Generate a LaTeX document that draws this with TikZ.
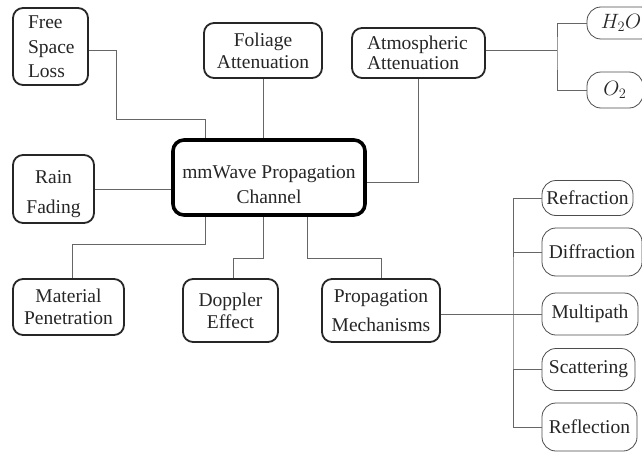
\documentclass[tikz,border=0pt]{standalone}
\usepackage{fontspec}
\setmainfont{Liberation Serif}
\begin{document}
\begin{tikzpicture}[x=1pt,y=-1pt,
  txt/.style={font=\fontsize{19.5}{24}\selectfont, text=black!85, inner sep=0pt},
  mainbox/.style={txt, draw=black!85, line width=1.8pt, rounded corners=10pt},
  centerbox/.style={txt, draw=black, line width=3.6pt, rounded corners=11pt},
  leaf/.style={txt, draw=black!70, line width=0.8pt, rounded corners=14pt},
  conn/.style={draw=black!60, line width=0.9pt}]
\useasboundingbox (0,0) rectangle (642,452);
\clip (0,0) rectangle (642,452);
\fill[white] (0,0) rectangle (642,452);
% main nodes
\node[mainbox, minimum width=75pt, minimum height=77pt, text width=45pt, align=left] (fsl) at (50.5,46.5) {\raisebox{-2pt}[\height][\depth]{\begin{tabular}{@{}l@{}}Free\\[0.5pt]Space\\[0.5pt]Loss\end{tabular}}};
\node[mainbox, minimum width=118pt, minimum height=55pt, align=center, font=\fontsize{19.5}{22}\selectfont] (fol) at (263,50.5) {Foliage\\Attenuation};
\node[mainbox, minimum width=133pt, minimum height=50pt, text width=103pt, align=left, font=\fontsize{19.5}{20.5}\selectfont] (atm) at (418.5,53) {Atmospheric\\Attenuation};
\node[centerbox, minimum width=192pt, minimum height=75pt, align=center] (cbox) at (269,177.5) {\raisebox{-9pt}[\height][\depth]{\begin{tabular}{@{}c@{}}mmWave Propagation\\[1pt]Channel\end{tabular}}};
\node[mainbox, minimum width=81pt, minimum height=68pt, align=center] (rain) at (53.5,189) {\raisebox{-5pt}[\height][\depth]{\begin{tabular}{@{}c@{}}Rain\\[6pt]Fading\end{tabular}}};
\node[mainbox, minimum width=111pt, minimum height=56pt, align=center, font=\fontsize{19.5}{22}\selectfont] (mat) at (68.5,307) {Material\\Penetration};
\node[mainbox, minimum width=95pt, minimum height=63pt, align=center, font=\fontsize{19.5}{22}\selectfont] (dop) at (230.5,310.5) {Doppler\\Effect};
\node[mainbox, minimum width=118pt, minimum height=63pt, align=center, font=\fontsize{19.5}{29}\selectfont] (pm) at (381,310.5) {Propagation\\Mechanisms};
% leaves
\node[leaf, minimum width=68pt, minimum height=32pt] (h2o) at (621,23) {$H_2O$};
\node[leaf, minimum width=56pt, minimum height=36pt] (o2) at (615,90) {$O_2$};
\node[leaf, minimum width=91pt, minimum height=35pt] (refr) at (587.5,198) {Refraction};
\node[leaf, minimum width=100pt, minimum height=48pt] (diff) at (592,252) {Diffraction};
\node[leaf, minimum width=96pt, minimum height=42pt] (mult) at (590,314) {Multipath};
\node[leaf, minimum width=93pt, minimum height=42pt] (scat) at (588.5,369.5) {Scattering};
\node[leaf, minimum width=95pt, minimum height=48pt] (refl) at (589.5,427) {Reflection};
% bend coordinates
\coordinate (f1) at (116,119);
\coordinate (f2) at (205,119);
\coordinate (aj) at (557,50);
\coordinate (m1) at (72,244);
\coordinate (d1) at (233,258);
\coordinate (p1) at (381,258);
\coordinate (pj) at (513,314);
% connectors
\draw[conn] ([yshift=-3.5pt]fsl.east) -| (f1) -- (f2) -- (f2 |- cbox.north);
\draw[conn] (fol.south) -- (fol.south |- cbox.north);
\draw[conn] (atm.south) |- ([yshift=-4.5pt]cbox.east);
\draw[conn] ([yshift=3pt]atm.east) -- (aj);
\draw[conn] (h2o.west) -| (aj) |- (o2.west);
\draw[conn] (rain.east) -- (rain.east -| cbox.west);
\draw[conn] ([xshift=-64pt]cbox.south) |- (m1) -- (m1 |- mat.north);
\draw[conn] ([xshift=-6pt]cbox.south) |- (d1) -- (d1 |- dop.north);
\draw[conn] ([xshift=38pt]cbox.south) |- (p1) -- (p1 |- pm.north);
\draw[conn] ([yshift=-3.5pt]pm.east) -- (pj);
\draw[conn] (refr.west) -| (pj) |- (refl.west);
\draw[conn] (pj |- diff.west) -- (diff.west);
\draw[conn] (pj) -- (mult.west);
\draw[conn] (pj |- scat.west) -- (scat.west);
\end{tikzpicture}
\end{document}
